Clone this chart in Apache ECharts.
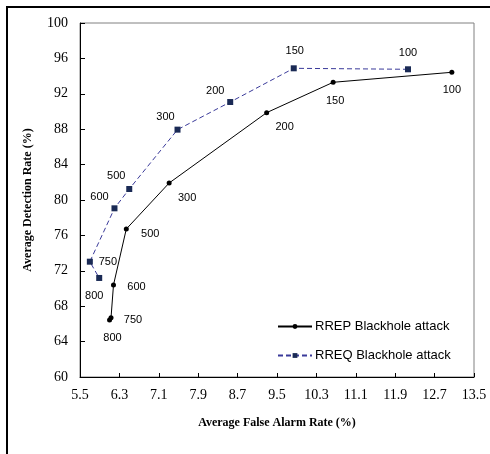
<!DOCTYPE html>
<html>
<head>
<meta charset="utf-8">
<script src="https://cdn.jsdelivr.net/npm/echarts@6/dist/echarts.min.js"></script>
<style>
  html, body { margin: 0; padding: 0; background: #fff; }
  #chart { width: 490px; height: 454px; }
</style>
</head>
<body>
<div id="chart"></div>
<script>
// data
const rrepFar = [13.05, 10.64, 9.29, 7.31, 6.44, 6.18, 6.13, 6.10];
const rrepDr = [94.43, 93.3, 89.87, 81.92, 76.72, 70.4, 66.7, 66.44];
const rrepLabels = ['100', '150', '200', '300', '500', '600', '750', '800'];

const rreqFar = [12.16, 9.84, 8.55, 7.48, 6.50, 6.20, 5.70, 5.89];
const rreqDr = [94.77, 94.88, 91.07, 87.95, 81.24, 79.06, 73.03, 71.19];
const rreqLabels = ['100', '150', '200', '300', '500', '600', '750', '800'];

const xTicks = ['5.5', '6.3', '7.1', '7.9', '8.7', '9.5', '10.3', '11.1', '11.9', '12.7', '13.5'];
const yTicks = ['60', '64', '68', '72', '76', '80', '84', '88', '92', '96', '100'];

// label offsets (px) for each point, in the same order
const rrepOffsets = [[0, 18], [2, 19], [18, 14], [18, 15], [24, 5], [23, 2], [22, 2], [3, 18]];
const rreqOffsets = [[0, -16], [1, -17], [-15, -11], [-12, -13], [-13, -13], [-15, -11], [18, 0], [-5, 18]];

function makePoints(xs, ys, labels, offsets) {
  return xs.map((x, i) => ({
    value: [x, ys[i]],
    label: { show: true, formatter: labels[i], offset: offsets[i] }
  }));
}

const chart = echarts.init(document.getElementById('chart'));

const labelStyle = {
  position: 'inside',
  color: '#000',
  fontFamily: 'Liberation Sans, Arial',
  fontSize: 11
};

const option = {
  animation: false,
  backgroundColor: '#fff',
  grid: {
    left: 80,
    top: 23,
    right: 16,
    bottom: 77,
    show: true,
    borderColor: '#808080',
    borderWidth: 1
  },
  xAxis: {
    type: 'value',
    min: 5.5,
    max: 13.5,
    interval: 0.8,
    name: 'Average False Alarm Rate (%)',
    nameLocation: 'middle',
    nameGap: 40,
    nameTextStyle: { fontFamily: 'Liberation Serif', fontWeight: 'bold', fontSize: 12, color: '#000' },
    axisLine: { show: true, lineStyle: { color: '#000', width: 1 } },
    axisTick: { show: true, inside: true, length: 4, lineStyle: { color: '#000' } },
    axisLabel: {
      margin: 11,
      color: '#000',
      fontFamily: 'Liberation Serif',
      fontSize: 14,
      formatter: (v) => xTicks[Math.round((v - 5.5) / 0.8)]
    },
    splitLine: { show: false }
  },
  yAxis: {
    type: 'value',
    min: 60,
    max: 100,
    interval: 4,
    name: 'Average Detection Rate (%)',
    nameLocation: 'middle',
    nameGap: 46,
    nameTextStyle: { fontFamily: 'Liberation Serif', fontWeight: 'bold', fontSize: 12, color: '#000' },
    axisLine: { show: true, lineStyle: { color: '#000', width: 1 } },
    axisTick: { show: true, inside: true, length: 5, lineStyle: { color: '#000' } },
    axisLabel: {
      margin: 12,
      color: '#000',
      fontFamily: 'Liberation Serif',
      fontSize: 14,
      formatter: (v) => yTicks[Math.round((v - 60) / 4)]
    },
    splitLine: { show: false }
  },
  legend: {
    orient: 'vertical',
    left: 272,
    top: 315,
    itemWidth: 34,
    itemHeight: 6,
    itemGap: 16,
    textStyle: { fontFamily: 'Liberation Sans, Arial', fontSize: 13, color: '#000', padding: [0, 0, 0, -2] },
    data: ['RREP Blackhole attack', 'RREQ Blackhole attack']
  },
  series: [
    {
      name: 'RREP Blackhole attack',
      type: 'line',
      symbol: 'circle',
      symbolSize: 5,
      itemStyle: { color: '#000' },
      lineStyle: { color: '#000', width: 1 },
      label: labelStyle,
      data: makePoints(rrepFar, rrepDr, rrepLabels, rrepOffsets)
    },
    {
      name: 'RREQ Blackhole attack',
      type: 'line',
      symbol: 'rect',
      symbolSize: 6,
      itemStyle: { color: '#1a2a55' },
      lineStyle: { color: '#3a3a9a', width: 1, type: [5, 3] },
      label: labelStyle,
      data: makePoints(rreqFar, rreqDr, rreqLabels, rreqOffsets)
    }
  ],
  graphic: [
    {
      type: 'rect',
      shape: { x: 7, y: 7, width: 520, height: 500 },
      style: { fill: 'none', stroke: '#000', lineWidth: 2 },
      silent: true
    }
  ]
};

chart.setOption(option);
</script>
</body>
</html>
